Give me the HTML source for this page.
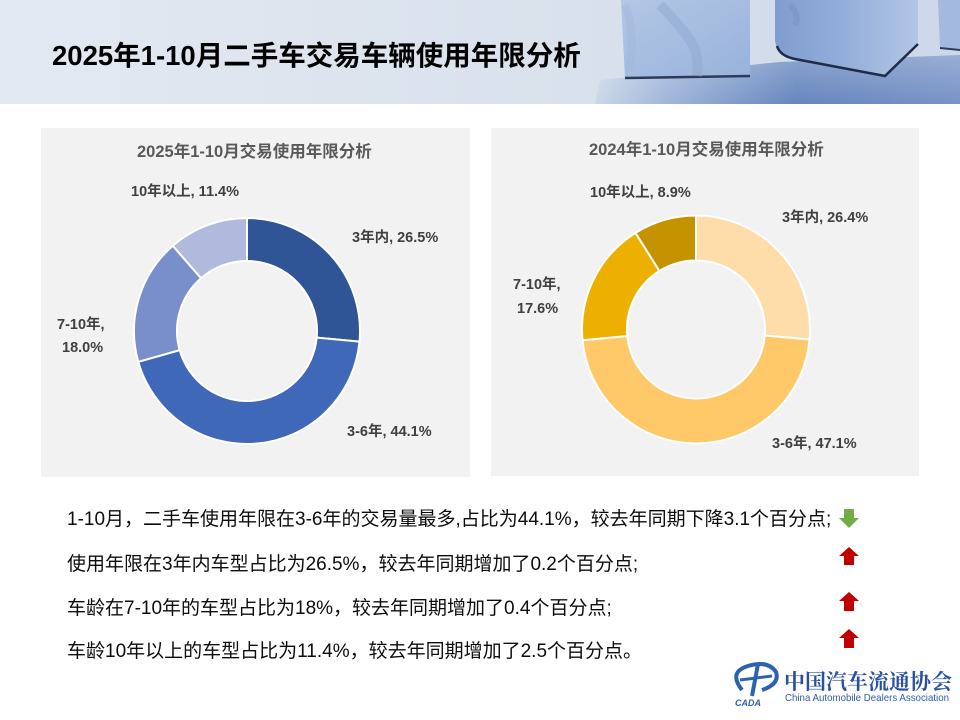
<!DOCTYPE html>
<html><head><meta charset="utf-8"><style>
html,body{margin:0;padding:0;background:#fff;}
svg{display:block;}
.cn{font-family:"Liberation Sans","Noto Sans CJK SC",sans-serif;}
</style></head><body>
<svg width="960" height="720" viewBox="0 0 960 720" xmlns="http://www.w3.org/2000/svg" class="cn">
<defs>
<linearGradient id="hdr" x1="0" y1="0" x2="1" y2="0">
<stop offset="0" stop-color="#E3E9F2"/><stop offset="0.6" stop-color="#D9E1EC"/><stop offset="1" stop-color="#CCD8EA"/>
</linearGradient>
<linearGradient id="floorH" x1="0" y1="0" x2="1" y2="0">
<stop offset="0" stop-color="#CBD7E8"/><stop offset="0.2" stop-color="#9FB5DA"/><stop offset="0.55" stop-color="#6686BE"/><stop offset="1" stop-color="#7893C7"/>
</linearGradient>
<linearGradient id="floorV" x1="0" y1="0" x2="0" y2="1">
<stop offset="0" stop-color="#fff" stop-opacity="0.25"/><stop offset="1" stop-color="#fff" stop-opacity="0"/>
</linearGradient>
<linearGradient id="cube1" x1="0" y1="0" x2="1" y2="1">
<stop offset="0" stop-color="#B3C7E5"/><stop offset="1" stop-color="#98B2DA"/>
</linearGradient>
<linearGradient id="cube2" x1="0" y1="0" x2="1" y2="0">
<stop offset="0" stop-color="#7F9DCF"/><stop offset="0.5" stop-color="#95AFDB"/><stop offset="1" stop-color="#B2C6E6"/>
</linearGradient>
</defs>
<!-- header -->
<rect x="0" y="0" width="960" height="104" fill="url(#hdr)"/>
<path d="M595,104 L600,80 Q700,70 780,62 L960,55 L960,104 Z" fill="url(#floorH)"/>
<path d="M595,104 L600,80 Q700,70 780,62 L960,55 L960,104 Z" fill="url(#floorV)"/>
<!-- cube 1 -->
<path d="M621,0 L750,0 L750,76 L625,78 Z" fill="url(#cube1)"/>
<path d="M625,78 L750,76" stroke="#2B3B5C" stroke-width="2.5"/>
<path d="M660,5 Q680,25 690,40 Q700,55 697,76" stroke="#90A8D0" stroke-width="10" fill="none" opacity="0.5"/>
<path d="M625,5 Q635,30 630,70" stroke="#A2B8DC" stroke-width="8" fill="none" opacity="0.5"/>
<!-- cube 2 -->
<path d="M775,0 L918,0 L918,42 L885,75 L790,57 Q776,53 775,40 Z" fill="url(#cube2)"/>
<path d="M777,46 Q780,56 795,59 L885,76 L918,44" stroke="#1E2C48" stroke-width="2.5" fill="none"/>
<path d="M790,5 Q800,15 795,25" stroke="#7391C4" stroke-width="6" fill="none" opacity="0.5"/>
<!-- cube 3 -->
<path d="M938,0 L960,0 L960,50 L940,48 Z" fill="#A3B9DE"/>
<path d="M940,48 L960,50" stroke="#2B3B5C" stroke-width="2"/>
<!-- title -->
<text x="52" y="65" font-size="27.5" font-weight="700" fill="#000">2025年1-10月二手车交易车辆使用年限分析</text>

<!-- left panel -->
<rect x="41" y="128" width="429" height="349" fill="#F2F2F2"/>
<text x="137" y="157" font-size="16.5" font-weight="700" fill="#595959">2025年1-10月交易使用年限分析</text>
<g stroke="#fff" stroke-width="2" stroke-linejoin="round">
<path d="M247,218 A113,113 0 0 1 359.50,341.63 L316.69,337.59 A70,70 0 0 0 247,261 Z" fill="#2F5597"/>
<path d="M359.50,341.63 A113,113 0 0 1 138.29,361.84 L179.66,350.11 A70,70 0 0 0 316.69,337.59 Z" fill="#4068B8"/>
<path d="M138.29,361.84 A113,113 0 0 1 172.79,245.78 L201.03,278.21 A70,70 0 0 0 179.66,350.11 Z" fill="#788FCB"/>
<path d="M172.79,245.78 A113,113 0 0 1 247,218 L247,261 A70,70 0 0 0 201.03,278.21 Z" fill="#B0BADD"/>
</g>
<g font-size="14.5" font-weight="700" fill="#404040">
<text x="131" y="196">10年以上, 11.4%</text>
<text x="352" y="242">3年内, 26.5%</text>
<text x="57" y="329">7-10年,</text>
<text x="62" y="352">18.0%</text>
<text x="347" y="436">3-6年, 44.1%</text>
</g>

<!-- right panel -->
<rect x="491" y="128" width="428" height="348" fill="#F2F2F2"/>
<text x="589" y="155" font-size="16.5" font-weight="700" fill="#595959">2024年1-10月交易使用年限分析</text>
<g stroke="#fff" stroke-width="2" stroke-linejoin="round">
<path d="M696,215.5 A114,114 0 0 1 809.56,339.51 L764.73,335.56 A69,69 0 0 0 696,260.5 Z" fill="#FFDDAB"/>
<path d="M809.56,339.51 A114,114 0 0 1 582.51,340.23 L627.31,335.99 A69,69 0 0 0 764.73,335.56 Z" fill="#FFC96A"/>
<path d="M582.51,340.23 A114,114 0 0 1 635.52,232.86 L659.40,271.01 A69,69 0 0 0 627.31,335.99 Z" fill="#EEB000"/>
<path d="M635.52,232.86 A114,114 0 0 1 696,215.5 L696,260.5 A69,69 0 0 0 659.40,271.01 Z" fill="#C59300"/>
</g>
<g font-size="14.5" font-weight="700" fill="#404040">
<text x="590" y="197">10年以上, 8.9%</text>
<text x="782" y="222">3年内, 26.4%</text>
<text x="513" y="289">7-10年,</text>
<text x="517" y="313">17.6%</text>
<text x="772" y="448">3-6年, 47.1%</text>
</g>

<!-- body text -->
<g font-size="19" fill="#0D0D0D">
<text x="67" y="525">1-10月，二手车使用年限在3-6年的交易量最多,占比为44.1%，较去年同期下降3.1个百分点;</text>
<text x="67" y="570">使用年限在3年内车型占比为26.5%，较去年同期增加了0.2个百分点;</text>
<text x="67" y="614">车龄在7-10年的车型占比为18%，较去年同期增加了0.4个百分点;</text>
<text x="67" y="657">车龄10年以上的车型占比为11.4%，较去年同期增加了2.5个百分点。</text>
</g>
<!-- arrows -->
<polygon points="844,509 854,509 854,518 859,518 849,528 839,518 844,518" fill="#70AD47"/>
<polygon points="849,547 859,556 854,556 854,565 844,565 844,556 839,556" fill="#C00000"/>
<polygon points="849,592 859,601 854,601 854,611 844,611 844,601 839,601" fill="#C00000"/>
<polygon points="849,629 859,638 854,638 854,648 844,648 844,638 839,638" fill="#C00000"/>

<!-- logo -->
<g>
<path d="M742,690 Q728,672 748,666 Q768,660 776,672 Q780,684 762,690" stroke="#2D62B0" stroke-width="4" fill="none"/>
<path d="M758,664 L752,696" stroke="#2D62B0" stroke-width="4"/>
<path d="M740,680 L772,676" stroke="#2D62B0" stroke-width="3"/>
<text x="735" y="706" font-size="9" font-weight="700" font-style="italic" fill="#2D62B0">CADA</text>
</g>
<text x="784" y="689" font-size="21" font-weight="700" fill="#2A4F9E" font-family="'Noto Serif CJK SC','Noto Sans CJK SC',serif">中国汽车流通协会</text>
<text x="785" y="701" font-size="10.5" fill="#2F5FA8" textLength="164" lengthAdjust="spacingAndGlyphs">China Automobile Dealers Association</text>
</svg>
</body></html>
